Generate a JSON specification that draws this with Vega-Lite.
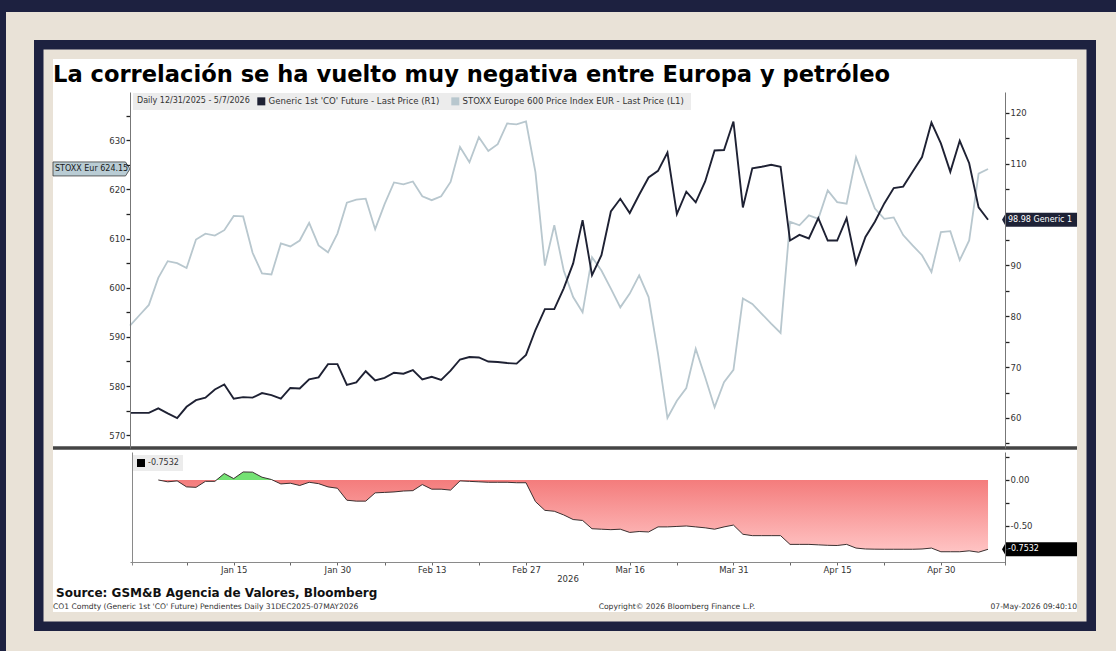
{
  "$schema": "https://vega.github.io/schema/vega-lite/v6.json",
  "width": 1024,
  "height": 553,
  "autosize": {"type": "none"},
  "padding": {"left": 53, "top": 59, "right": 39, "bottom": 39},
  "background": "#e9e2d7",
  "title": {
    "text": "La correlación se ha vuelto muy negativa entre Europa y petróleo",
    "anchor": "start",
    "frame": "group",
    "orient": "top",
    "baseline": "top",
    "offset": -88,
    "fontSize": 22.6,
    "fontWeight": "bold",
    "font": "DejaVu Sans",
    "color": "#000000"
  },
  "config": {
    "view": {"stroke": null},
    "axis": {"labelFont": "DejaVu Sans", "titleFont": "DejaVu Sans", "grid": false},
    "legend": {"labelFont": "DejaVu Sans", "titleFont": "DejaVu Sans"},
    "text": {"font": "DejaVu Sans"}
  },
  "data": {
    "values": [
      {"date": "2025-12-31", "stoxx": 592.3, "brent": 61.0},
      {"date": "2026-01-01", "stoxx": 594.4, "brent": 61.0},
      {"date": "2026-01-02", "stoxx": 596.5, "brent": 61.0},
      {"date": "2026-01-05", "stoxx": 602.0, "brent": 61.9, "corr": 0.0},
      {"date": "2026-01-06", "stoxx": 605.4, "brent": 60.9, "corr": -0.02},
      {"date": "2026-01-07", "stoxx": 605.0, "brent": 60.0, "corr": -0.01},
      {"date": "2026-01-08", "stoxx": 604.0, "brent": 62.2, "corr": -0.075},
      {"date": "2026-01-09", "stoxx": 609.8, "brent": 63.5, "corr": -0.08},
      {"date": "2026-01-12", "stoxx": 611.0, "brent": 64.0, "corr": -0.015},
      {"date": "2026-01-13", "stoxx": 610.6, "brent": 65.6, "corr": -0.015},
      {"date": "2026-01-14", "stoxx": 611.7, "brent": 66.6, "corr": 0.07},
      {"date": "2026-01-15", "stoxx": 614.6, "brent": 63.8, "corr": 0.015},
      {"date": "2026-01-16", "stoxx": 614.5, "brent": 64.1, "corr": 0.087},
      {"date": "2026-01-19", "stoxx": 607.1, "brent": 64.0, "corr": 0.085},
      {"date": "2026-01-20", "stoxx": 602.9, "brent": 64.9, "corr": 0.03},
      {"date": "2026-01-21", "stoxx": 602.7, "brent": 64.5, "corr": 0.005},
      {"date": "2026-01-22", "stoxx": 609.0, "brent": 63.8, "corr": -0.043},
      {"date": "2026-01-23", "stoxx": 608.4, "brent": 65.9, "corr": -0.035},
      {"date": "2026-01-26", "stoxx": 609.6, "brent": 65.8, "corr": -0.06},
      {"date": "2026-01-27", "stoxx": 613.2, "brent": 67.6, "corr": -0.025},
      {"date": "2026-01-28", "stoxx": 608.6, "brent": 68.0, "corr": -0.04},
      {"date": "2026-01-29", "stoxx": 607.2, "brent": 70.6, "corr": -0.075},
      {"date": "2026-01-30", "stoxx": 611.0, "brent": 70.6, "corr": -0.09},
      {"date": "2026-02-02", "stoxx": 617.3, "brent": 66.5, "corr": -0.22},
      {"date": "2026-02-03", "stoxx": 617.9, "brent": 67.0, "corr": -0.23},
      {"date": "2026-02-04", "stoxx": 618.1, "brent": 69.2, "corr": -0.23},
      {"date": "2026-02-05", "stoxx": 611.9, "brent": 67.4, "corr": -0.14},
      {"date": "2026-02-06", "stoxx": 617.0, "brent": 67.9, "corr": -0.135},
      {"date": "2026-02-09", "stoxx": 621.4, "brent": 68.9, "corr": -0.13},
      {"date": "2026-02-10", "stoxx": 621.0, "brent": 68.7, "corr": -0.12},
      {"date": "2026-02-11", "stoxx": 621.6, "brent": 69.4, "corr": -0.116},
      {"date": "2026-02-12", "stoxx": 618.6, "brent": 67.6, "corr": -0.05},
      {"date": "2026-02-13", "stoxx": 617.8, "brent": 68.1, "corr": -0.1},
      {"date": "2026-02-16", "stoxx": 618.6, "brent": 67.5, "corr": -0.1},
      {"date": "2026-02-17", "stoxx": 621.5, "brent": 69.3, "corr": -0.11},
      {"date": "2026-02-18", "stoxx": 628.6, "brent": 71.5, "corr": -0.01},
      {"date": "2026-02-19", "stoxx": 625.5, "brent": 72.0, "corr": -0.015},
      {"date": "2026-02-20", "stoxx": 630.6, "brent": 71.9, "corr": -0.02},
      {"date": "2026-02-23", "stoxx": 627.8, "brent": 71.1, "corr": -0.025},
      {"date": "2026-02-24", "stoxx": 629.2, "brent": 71.0, "corr": -0.025},
      {"date": "2026-02-25", "stoxx": 633.4, "brent": 70.8, "corr": -0.025},
      {"date": "2026-02-26", "stoxx": 633.2, "brent": 70.7, "corr": -0.03},
      {"date": "2026-02-27", "stoxx": 633.8, "brent": 72.4, "corr": -0.03},
      {"date": "2026-03-02", "stoxx": 623.5, "brent": 77.3, "corr": -0.235},
      {"date": "2026-03-03", "stoxx": 604.5, "brent": 81.4, "corr": -0.33},
      {"date": "2026-03-04", "stoxx": 612.7, "brent": 81.4, "corr": -0.34},
      {"date": "2026-03-05", "stoxx": 603.5, "brent": 85.5, "corr": -0.38},
      {"date": "2026-03-06", "stoxx": 598.1, "brent": 90.4, "corr": -0.43},
      {"date": "2026-03-09", "stoxx": 595.0, "brent": 98.9, "corr": -0.44},
      {"date": "2026-03-10", "stoxx": 606.2, "brent": 88.1, "corr": -0.53},
      {"date": "2026-03-11", "stoxx": 603.5, "brent": 92.0, "corr": -0.535},
      {"date": "2026-03-12", "stoxx": 599.8, "brent": 100.6, "corr": -0.54},
      {"date": "2026-03-13", "stoxx": 596.0, "brent": 103.1, "corr": -0.535},
      {"date": "2026-03-16", "stoxx": 598.8, "brent": 100.3, "corr": -0.57},
      {"date": "2026-03-17", "stoxx": 602.5, "brent": 103.9, "corr": -0.56},
      {"date": "2026-03-18", "stoxx": 598.1, "brent": 107.3, "corr": -0.565},
      {"date": "2026-03-19", "stoxx": 586.6, "brent": 108.6, "corr": -0.51},
      {"date": "2026-03-20", "stoxx": 573.5, "brent": 112.2, "corr": -0.51},
      {"date": "2026-03-23", "stoxx": 577.0, "brent": 100.1, "corr": -0.505},
      {"date": "2026-03-24", "stoxx": 579.6, "brent": 104.5, "corr": -0.5},
      {"date": "2026-03-25", "stoxx": 587.6, "brent": 102.4, "corr": -0.51},
      {"date": "2026-03-26", "stoxx": 581.8, "brent": 106.5, "corr": -0.52},
      {"date": "2026-03-27", "stoxx": 575.7, "brent": 112.6, "corr": -0.535},
      {"date": "2026-03-30", "stoxx": 580.8, "brent": 112.7, "corr": -0.51},
      {"date": "2026-03-31", "stoxx": 583.3, "brent": 118.3, "corr": -0.49},
      {"date": "2026-04-01", "stoxx": 597.8, "brent": 101.4, "corr": -0.59},
      {"date": "2026-04-02", "stoxx": 596.7, "brent": 109.1, "corr": -0.605},
      {"date": "2026-04-03", "stoxx": 594.7, "brent": 109.4, "corr": -0.605},
      {"date": "2026-04-06", "stoxx": 592.7, "brent": 109.8, "corr": -0.605},
      {"date": "2026-04-07", "stoxx": 590.8, "brent": 109.4, "corr": -0.605},
      {"date": "2026-04-08", "stoxx": 613.4, "brent": 94.9, "corr": -0.7},
      {"date": "2026-04-09", "stoxx": 612.7, "brent": 96.0, "corr": -0.7},
      {"date": "2026-04-10", "stoxx": 614.7, "brent": 95.3, "corr": -0.7},
      {"date": "2026-04-13", "stoxx": 614.0, "brent": 99.3, "corr": -0.705},
      {"date": "2026-04-14", "stoxx": 619.8, "brent": 94.9, "corr": -0.71},
      {"date": "2026-04-15", "stoxx": 617.4, "brent": 94.9, "corr": -0.712},
      {"date": "2026-04-16", "stoxx": 617.1, "brent": 99.3, "corr": -0.7},
      {"date": "2026-04-17", "stoxx": 626.5, "brent": 90.4, "corr": -0.74},
      {"date": "2026-04-20", "stoxx": 621.2, "brent": 95.6, "corr": -0.75},
      {"date": "2026-04-21", "stoxx": 616.1, "brent": 98.6, "corr": -0.752},
      {"date": "2026-04-22", "stoxx": 614.0, "brent": 102.2, "corr": -0.753},
      {"date": "2026-04-23", "stoxx": 614.3, "brent": 105.2, "corr": -0.753},
      {"date": "2026-04-24", "stoxx": 610.7, "brent": 105.5, "corr": -0.753},
      {"date": "2026-04-27", "stoxx": 608.6, "brent": 108.4, "corr": -0.753},
      {"date": "2026-04-28", "stoxx": 606.6, "brent": 111.3, "corr": -0.75},
      {"date": "2026-04-29", "stoxx": 603.2, "brent": 118.1, "corr": -0.74},
      {"date": "2026-04-30", "stoxx": 611.3, "brent": 114.0, "corr": -0.78},
      {"date": "2026-05-01", "stoxx": 611.5, "brent": 108.4, "corr": -0.78},
      {"date": "2026-05-04", "stoxx": 605.6, "brent": 114.5, "corr": -0.78},
      {"date": "2026-05-05", "stoxx": 609.6, "brent": 110.1, "corr": -0.77},
      {"date": "2026-05-06", "stoxx": 623.2, "brent": 101.4, "corr": -0.785},
      {"date": "2026-05-07", "stoxx": 624.15, "brent": 98.98, "corr": -0.7532}
    ]
  },
  "resolve": {"scale": {"y": "independent"}},
  "layer": [
    {"data": {"values": [{}]}, "mark": {"type": "rect", "fillOpacity": 0, "stroke": "#1d2140", "strokeWidth": 120}, "encoding": {}},
    {"data": {"values": [{}]}, "mark": {"type": "rect", "fillOpacity": 0, "stroke": "#e9e2d7", "strokeWidth": 94}, "encoding": {}},
    {"data": {"values": [{}]}, "mark": {"type": "rect", "fillOpacity": 0, "stroke": "#1d2140", "strokeWidth": 38}, "encoding": {}},
    {"data": {"values": [{}]}, "mark": {"type": "rect", "fillOpacity": 0, "stroke": "#e9e2d7", "strokeWidth": 19}, "encoding": {}},
    {"data": {"values": [{}]}, "mark": {"type": "rect", "fill": "#ffffff", "fillOpacity": 1, "strokeWidth": 0}, "encoding": {}},
    {
      "data": {"values": [{}]},
      "mark": {"type": "rule", "color": "#454545", "strokeWidth": 3.5},
      "encoding": {"y": {"datum": 567.4, "type": "quantitative", "scale": {"domain": [567.4, 639.8], "range": [389, 33], "nice": false, "zero": false}, "axis": null}}
    },
    {
      "encoding": {
        "x": {
          "field": "date", "type": "ordinal",
          "scale": {"type": "point", "range": [77, 952], "padding": 0.9, "align": 0},
          "axis": {
            "orient": "bottom", "offset": -50, "zindex": 1,
            "values": ["2026-01-08", "2026-01-15", "2026-01-23", "2026-01-30", "2026-02-06", "2026-02-13", "2026-02-20", "2026-02-27", "2026-03-09", "2026-03-16", "2026-03-23", "2026-03-31", "2026-04-08", "2026-04-15", "2026-04-22", "2026-04-30"],
            "labelExpr": "indexof(['2026-01-15','2026-01-30','2026-02-13','2026-02-27','2026-03-16','2026-03-31','2026-04-15','2026-04-30'], datum.value) >= 0 ? utcFormat(toDate(datum.value), '%b %d') : ''",
            "labelAngle": 0, "labelAlign": "center", "labelBaseline": "top", "labelPadding": 0,
            "tickSize": 3, "labelFontSize": 8.5, "labelColor": "#333333",
            "domainColor": "#8a8a8a", "tickColor": "#666666",
            "title": "2026", "titleFontSize": 8.5, "titleFontWeight": "normal", "titleColor": "#333333", "titlePadding": 1
          }
        }
      },
      "resolve": {"scale": {"y": "independent"}},
      "layer": [
        {
          "mark": {"type": "line", "strokeWidth": 1.8},
          "encoding": {
            "y": {
              "field": "stoxx", "type": "quantitative",
              "scale": {"domain": [567.4, 639.8], "range": [389, 33], "nice": false, "zero": false},
              "axis": {
                "orient": "left", "offset": -77, "zindex": 1,
                "values": [570, 575, 580, 585, 590, 595, 600, 605, 610, 615, 620, 625, 630, 635],
                "labelExpr": "datum.value % 10 === 0 ? datum.label : ''",
                "title": null, "tickSize": 4, "tickWidth": 1.3, "labelFontSize": 8.5, "labelColor": "#333333",
                "labelPadding": 1, "domainColor": "#777777", "tickColor": "#222222", "labelOverlap": false
              }
            },
            "color": {
              "datum": "STOXX Europe 600 Price Index EUR - Last Price  (L1)", "type": "nominal",
              "scale": {"domain": ["Generic 1st 'CO' Future - Last Price  (R1)", "STOXX Europe 600 Price Index EUR - Last Price  (L1)"], "range": ["#1e2133", "#b8c7ce"]},
              "legend": {
                "orient": "none", "legendX": 80, "legendY": 34, "direction": "horizontal",
                "title": "Daily 12/31/2025 - 5/7/2026", "titleOrient": "left", "titleFontSize": 8, "titleFontWeight": "normal", "titleColor": "#333333", "titlePadding": 7,
                "labelFontSize": 8.6, "labelColor": "#333333", "labelLimit": 500, "symbolType": "square", "symbolSize": 64, "symbolStrokeWidth": 0,
                "columnPadding": 8, "labelOffset": 3, "padding": 4, "fillColor": "#ececec",
                "encode": {"symbols": {"update": {"fill": {"scale": "color", "field": "value"}, "stroke": {"value": "transparent"}}}}
              }
            }
          }
        },
        {
          "transform": [{"filter": "datum.date === '2025-12-31'"}],
          "mark": {"type": "point", "shape": "M -7.7 -0.7 L -0.45 -0.7 L 0 0 L -0.45 0.7 L -7.7 0.7 Z", "size": 400, "filled": true, "fill": "#b9ccd4", "stroke": "#3d3d3d", "strokeWidth": 0.8, "opacity": 1},
          "encoding": {"y": {"datum": 624.15, "type": "quantitative", "scale": {"domain": [567.4, 639.8], "range": [389, 33], "nice": false, "zero": false}, "axis": null}}
        },
        {
          "transform": [{"filter": "datum.date === '2025-12-31'"}],
          "mark": {"type": "text", "align": "left", "baseline": "middle", "dx": -75, "fontSize": 8, "color": "#1a1a1a"},
          "encoding": {"y": {"datum": 624.15, "type": "quantitative", "scale": {"domain": [567.4, 639.8], "range": [389, 33], "nice": false, "zero": false}, "axis": null}, "text": {"value": "STOXX Eur 624.15"}}
        },
        {
          "mark": {"type": "line", "strokeWidth": 1.9},
          "encoding": {
            "y": {
              "field": "brent", "type": "quantitative",
              "scale": {"domain": [54.1, 124.1], "range": [389, 33], "nice": false, "zero": false},
              "axis": {
                "orient": "right", "offset": -72, "zindex": 1,
                "values": [55, 60, 65, 70, 75, 80, 85, 90, 95, 100, 105, 110, 115, 120],
                "labelExpr": "(datum.value % 10 === 0 && datum.value !== 100) ? datum.label : ''",
                "title": null, "tickSize": 4, "tickWidth": 1.3, "labelFontSize": 8.5, "labelColor": "#333333",
                "labelPadding": 1, "domainColor": "#777777", "tickColor": "#222222", "labelOverlap": false
              }
            },
            "color": {
              "datum": "Generic 1st 'CO' Future - Last Price  (R1)", "type": "nominal",
              "scale": {"domain": ["Generic 1st 'CO' Future - Last Price  (R1)", "STOXX Europe 600 Price Index EUR - Last Price  (L1)"], "range": ["#1e2133", "#b8c7ce"]},
              "legend": {
                "orient": "none", "legendX": 80, "legendY": 34, "direction": "horizontal",
                "title": "Daily 12/31/2025 - 5/7/2026", "titleOrient": "left", "titleFontSize": 8, "titleFontWeight": "normal", "titleColor": "#333333", "titlePadding": 7,
                "labelFontSize": 8.6, "labelColor": "#333333", "labelLimit": 500, "symbolType": "square", "symbolSize": 64, "symbolStrokeWidth": 0,
                "columnPadding": 8, "labelOffset": 3, "padding": 4, "fillColor": "#ececec",
                "encode": {"symbols": {"update": {"fill": {"scale": "color", "field": "value"}, "stroke": {"value": "transparent"}}}}
              }
            }
          }
        },
        {
          "transform": [{"filter": "datum.date === '2026-05-07'"}],
          "mark": {"type": "point", "shape": "M 1.4 0 L 1.8 -0.7 L 8.9 -0.7 L 8.9 0.7 L 1.8 0.7 Z", "size": 400, "filled": true, "fill": "#1e2236", "strokeWidth": 0, "opacity": 1},
          "encoding": {"y": {"field": "brent", "type": "quantitative", "scale": {"domain": [54.1, 124.1], "range": [389, 33], "nice": false, "zero": false}, "axis": null}}
        },
        {
          "transform": [{"filter": "datum.date === '2026-05-07'"}],
          "mark": {"type": "text", "align": "left", "baseline": "middle", "dx": 20, "fontSize": 8, "color": "#ffffff"},
          "encoding": {"y": {"field": "brent", "type": "quantitative", "scale": {"domain": [54.1, 124.1], "range": [389, 33], "nice": false, "zero": false}, "axis": null}, "text": {"value": "98.98 Generic 1"}}
        },
        {
          "mark": {
            "type": "area",
            "fill": {"gradient": "linear", "x1": 0, "y1": 0, "x2": 0, "y2": 1, "stops": [
              {"offset": 0, "color": "#74e274"},
              {"offset": 0.099, "color": "#74e274"},
              {"offset": 0.1, "color": "#f47c7c"},
              {"offset": 1, "color": "#ffc4c4"}
            ]}
          },
          "encoding": {
            "y": {
              "field": "corr", "type": "quantitative",
              "scale": {"domain": [-0.924, 0.304], "range": [506, 393], "nice": false, "zero": false},
              "axis": {
                "orient": "right", "offset": -72, "zindex": 1,
                "values": [0.25, 0, -0.25, -0.5, -0.75],
                "labelExpr": "datum.value === 0 ? '0.00' : (datum.value === -0.5 ? '-0.50' : '')",
                "title": null, "tickSize": 4, "tickWidth": 1.3, "labelFontSize": 8.5, "labelColor": "#333333",
                "labelPadding": 1, "domainColor": "#777777", "tickColor": "#222222", "labelOverlap": false
              }
            },
            "y2": {"datum": 0}
          }
        },
        {
          "transform": [{"filter": "datum.date === '2026-05-07'"}],
          "mark": {"type": "point", "shape": "M 1.4 0 L 1.8 -0.7 L 8.9 -0.7 L 8.9 0.7 L 1.8 0.7 Z", "size": 400, "filled": true, "fill": "#000000", "strokeWidth": 0, "opacity": 1},
          "encoding": {"y": {"field": "corr", "type": "quantitative", "scale": {"domain": [-0.924, 0.304], "range": [506, 393], "nice": false, "zero": false}, "axis": null}}
        },
        {
          "transform": [{"filter": "datum.date === '2026-05-07'"}],
          "mark": {"type": "text", "align": "left", "baseline": "middle", "dx": 20, "fontSize": 8, "color": "#ffffff"},
          "encoding": {"y": {"field": "corr", "type": "quantitative", "scale": {"domain": [-0.924, 0.304], "range": [506, 393], "nice": false, "zero": false}, "axis": null}, "text": {"value": "-0.7532"}}
        },
        {
          "transform": [{"filter": "datum.date === '2025-12-31'"}],
          "mark": {"type": "text", "align": "left", "baseline": "alphabetic", "dx": -74, "fontSize": 12, "fontWeight": "bold", "color": "#111111"},
          "encoding": {"y": {"datum": -1.272, "type": "quantitative", "scale": {"domain": [-0.924, 0.304], "range": [506, 393], "nice": false, "zero": false}, "axis": null}, "text": {"value": "Source: GSM&B Agencia de Valores, Bloomberg"}}
        },
        {
          "transform": [{"filter": "datum.date === '2025-12-31'"}],
          "mark": {"type": "text", "align": "left", "baseline": "alphabetic", "dx": -77, "fontSize": 7.6, "color": "#333333"},
          "encoding": {"y": {"datum": -1.402, "type": "quantitative", "scale": {"domain": [-0.924, 0.304], "range": [506, 393], "nice": false, "zero": false}, "axis": null}, "text": {"value": "CO1 Comdty (Generic 1st 'CO' Future) Pendientes Daily 31DEC2025-07MAY2026"}}
        },
        {
          "transform": [{"filter": "datum.date === '2026-03-23'"}],
          "mark": {"type": "text", "align": "center", "baseline": "alphabetic", "fontSize": 7.6, "color": "#333333"},
          "encoding": {"y": {"datum": -1.402, "type": "quantitative", "scale": {"domain": [-0.924, 0.304], "range": [506, 393], "nice": false, "zero": false}, "axis": null}, "text": {"value": "Copyright© 2026 Bloomberg Finance L.P."}}
        },
        {
          "transform": [{"filter": "datum.date === '2026-05-07'"}],
          "mark": {"type": "text", "align": "right", "baseline": "alphabetic", "dx": 89, "fontSize": 7.6, "color": "#333333"},
          "encoding": {"y": {"datum": -1.402, "type": "quantitative", "scale": {"domain": [-0.924, 0.304], "range": [506, 393], "nice": false, "zero": false}, "axis": null}, "text": {"value": "07-May-2026 09:40:10"}}
        },
        {
          "mark": {"type": "line", "strokeWidth": 1},
          "encoding": {
            "y": {
              "field": "corr", "type": "quantitative",
              "scale": {"domain": [-0.924, 0.304], "range": [506, 393], "nice": false, "zero": false},
              "axis": {"orient": "left", "offset": -79, "zindex": 1, "labels": false, "ticks": false, "domain": true, "title": null, "domainColor": "#8a8a8a"}
            },
            "stroke": {
              "datum": "-0.7532", "type": "nominal",
              "scale": {"range": ["#3a3030"]},
              "legend": {
                "orient": "none", "legendX": 80, "legendY": 396, "title": null,
                "labelFontSize": 8, "labelColor": "#333333", "symbolType": "square", "symbolSize": 64, "symbolStrokeWidth": 0,
                "labelOffset": 3, "padding": 4, "fillColor": "#ececec",
                "encode": {"symbols": {"update": {"fill": {"value": "#000000"}, "stroke": {"value": "transparent"}}}}
              }
            }
          }
        }
      ]
    }
  ]
}
